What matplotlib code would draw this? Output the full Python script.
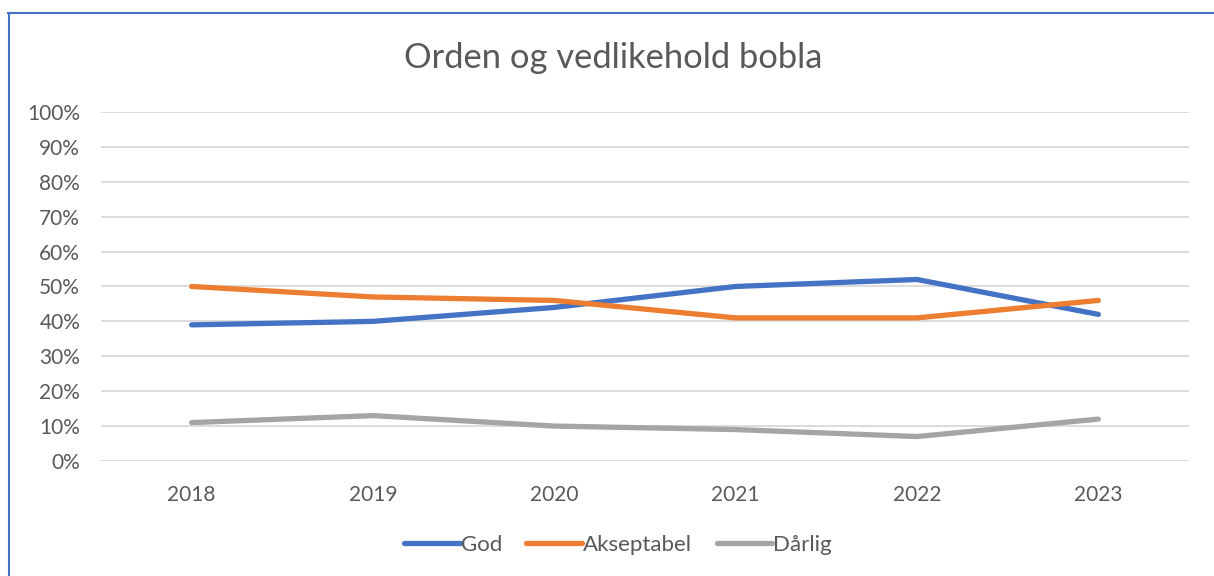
import matplotlib.pyplot as plt
from matplotlib.lines import Line2D
from matplotlib.ticker import PercentFormatter

years = ["2018", "2019", "2020", "2021", "2022", "2023"]
god = [39, 40, 44, 50, 52, 42]
akseptabel = [50, 47, 46, 41, 41, 46]
darlig = [11, 13, 10, 9, 7, 12]

serier = [("God", god, "#4472C4"),
          ("Akseptabel", akseptabel, "#ED7D31"),
          ("Dårlig", darlig, "#A5A5A5")]

plt.rcParams["font.family"] = ["Lato", "DejaVu Sans"]
tekst = "#595959"

fig = plt.figure(figsize=(12.14, 5.76), dpi=100)
ax = fig.add_axes([0.0832, 0.1997, 0.8962, 0.6059])

x = range(len(years))
for navn, verdier, farge in serier:
    ax.plot(x, verdier, color=farge, lw=3.8, solid_capstyle="round",
            solid_joinstyle="round", label=navn)

ax.set_xlim(-0.5, len(years) - 0.5)
ax.set_ylim(0, 100)
ax.set_yticks(range(0, 101, 10))
ax.yaxis.set_major_formatter(PercentFormatter(decimals=0))
ax.set_xticks(list(x))
ax.set_xticklabels(years)
ax.grid(axis="y", color="#D9D9D9", lw=1.3)
ax.set_axisbelow(True)
for s in ax.spines.values():
    s.set_visible(False)
ax.tick_params(length=0, labelsize=15, colors=tekst)
ax.tick_params(axis="y", pad=15)
ax.tick_params(axis="x", pad=17)

fig.text(0.505, 0.90, "Orden og vedlikehold bobla", ha="center", va="center",
         fontsize=24.8, color=tekst)

leg = fig.legend(loc="center", bbox_to_anchor=(0.509, 0.054), ncol=3, frameon=False,
                 fontsize=16, handlelength=2.5, handletextpad=0.05, columnspacing=1.1)
for t in leg.get_texts():
    t.set_color(tekst)

# ramme oppe og til venstre
fig.add_artist(Line2D([0.0066, 1.0], [0.977, 0.977], color="#4472C4", lw=1.5))
fig.add_artist(Line2D([0.0072, 0.0072], [0.0, 0.977], color="#4472C4", lw=1.5))

fig.savefig("out.png", dpi=100)
